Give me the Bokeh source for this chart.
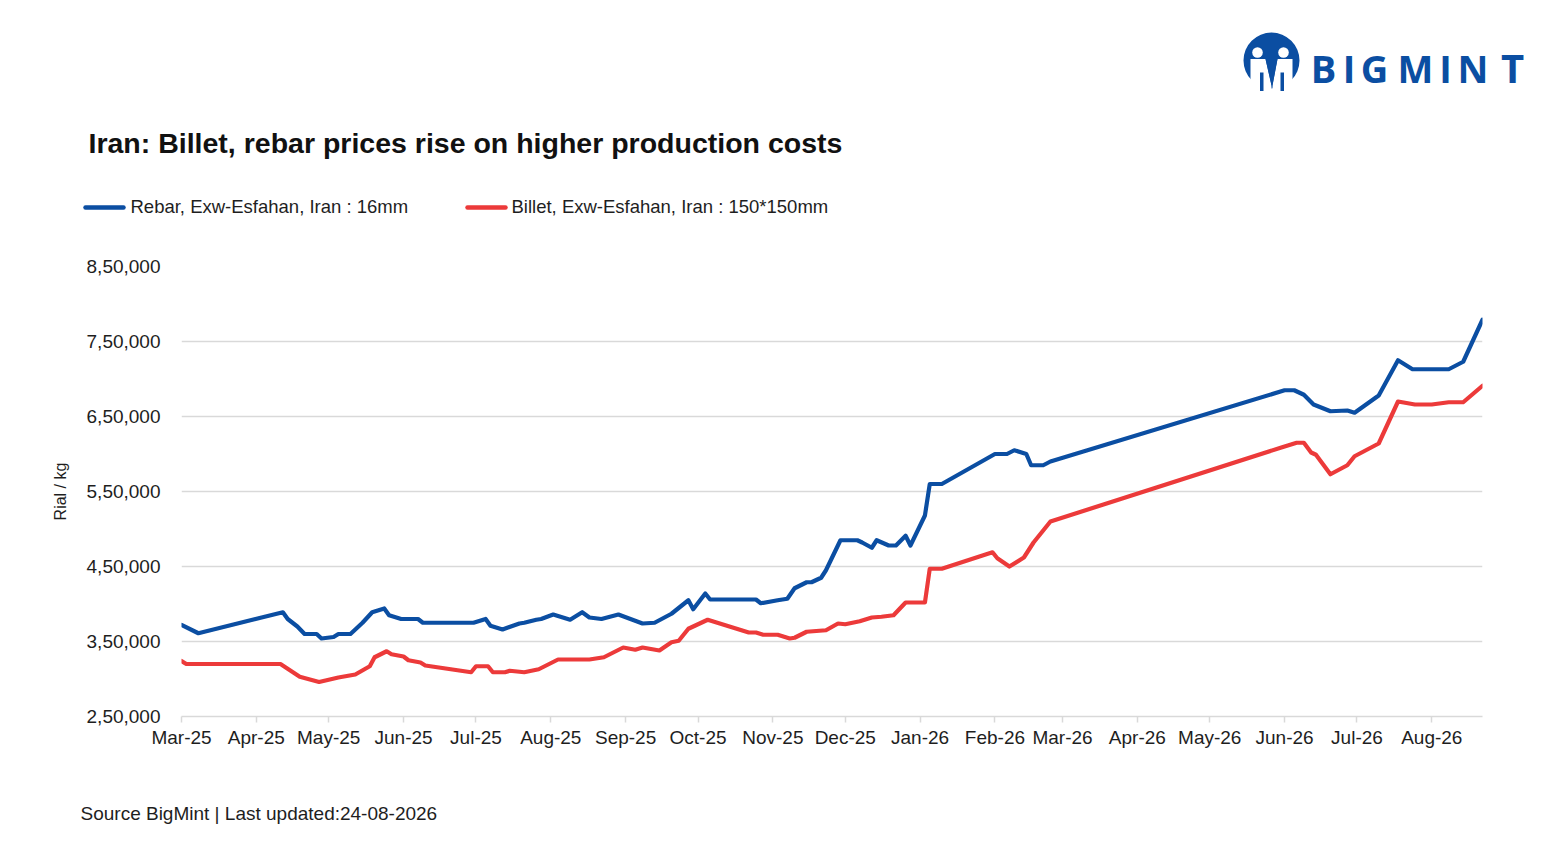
import numpy as np
import pandas as pd
from bokeh.plotting import figure
from bokeh.models import Range1d, FixedTicker, DatetimeTickFormatter
from bokeh.layouts import column
from bokeh.embed import file_html
from bokeh.resources import INLINE
from bokeh.core.properties import value

# ---------------- data ----------------
TITLE = "Iran: Billet, rebar prices rise on higher production costs"
SERIES_NAMES = ["Rebar, Exw-Esfahan, Iran : 16mm", "Billet, Exw-Esfahan, Iran : 150*150mm"]
Y_LABEL = "Rial / kg"
SOURCE = "Source BigMint | Last updated:24-08-2026"
LOGO_TEXT = "BIGMINT"

Y_TICKS = [250000, 350000, 450000, 550000, 650000, 750000, 850000]
Y_TICK_LABELS = ["2,50,000", "3,50,000", "4,50,000", "5,50,000", "6,50,000", "7,50,000", "8,50,000"]
X_START = "2025-03-01"
X_END = "2026-08-22"
MONTH_TICKS = pd.date_range("2025-03-01", "2026-08-01", freq="MS")

rebar_dates = ["2025-03-01", "2025-03-08", "2025-04-12", "2025-04-14", "2025-04-18", "2025-04-21",
               "2025-04-26", "2025-04-28", "2025-05-03", "2025-05-05", "2025-05-10", "2025-05-15",
               "2025-05-19", "2025-05-24", "2025-05-26", "2025-05-31", "2025-06-07", "2025-06-09",
               "2025-06-30", "2025-07-05", "2025-07-07", "2025-07-12", "2025-07-19", "2025-07-21",
               "2025-07-26", "2025-07-28", "2025-08-02", "2025-08-09", "2025-08-14", "2025-08-17",
               "2025-08-22", "2025-08-29", "2025-09-08", "2025-09-13", "2025-09-20", "2025-09-27",
               "2025-09-29", "2025-10-04", "2025-10-06", "2025-10-10", "2025-10-25", "2025-10-27",
               "2025-11-03", "2025-11-07", "2025-11-10", "2025-11-15", "2025-11-17", "2025-11-21",
               "2025-11-23", "2025-11-29", "2025-12-06", "2025-12-08", "2025-12-12", "2025-12-14",
               "2025-12-19", "2025-12-22", "2025-12-26", "2025-12-28", "2026-01-03", "2026-01-05",
               "2026-01-10", "2026-02-01", "2026-02-06", "2026-02-09", "2026-02-14", "2026-02-16",
               "2026-02-21", "2026-02-24", "2026-06-01", "2026-06-05", "2026-06-09", "2026-06-13",
               "2026-06-20", "2026-06-27", "2026-06-30", "2026-07-10", "2026-07-18", "2026-07-24",
               "2026-08-08", "2026-08-14", "2026-08-22"]
rebar_values = [372000, 361000, 389000, 380000, 370000, 360000,
                360000, 354000, 356000, 360000, 360000, 375000,
                389000, 394000, 385000, 380000, 380000, 375000,
                375000, 380000, 371000, 366000, 374000, 375000,
                379000, 380000, 386000, 379000, 389000, 382000,
                380000, 386000, 374000, 375000, 387000, 405000,
                393000, 414000, 406000, 406000, 406000, 401000,
                405000, 407000, 421000, 429000, 429000, 435000,
                445000, 485000, 485000, 482000, 475000, 485000,
                478000, 478000, 491000, 478000, 518000, 560000,
                560000, 600000, 600000, 605000, 600000, 585000,
                585000, 590000, 685000, 685000, 679000, 666000,
                657000, 658000, 655000, 678000, 725000, 713000,
                713000, 723000, 779000]

billet_dates = ["2025-03-01", "2025-03-03", "2025-04-11", "2025-04-19", "2025-04-27", "2025-05-05",
                "2025-05-12", "2025-05-18", "2025-05-20", "2025-05-25", "2025-05-27", "2025-06-01",
                "2025-06-03", "2025-06-08", "2025-06-10", "2025-06-29", "2025-07-01", "2025-07-06",
                "2025-07-08", "2025-07-13", "2025-07-15", "2025-07-21", "2025-07-27", "2025-08-04",
                "2025-08-17", "2025-08-23", "2025-08-31", "2025-09-05", "2025-09-08", "2025-09-15",
                "2025-09-20", "2025-09-23", "2025-09-27", "2025-10-05", "2025-10-11", "2025-10-22",
                "2025-10-25", "2025-10-28", "2025-11-03", "2025-11-08", "2025-11-10", "2025-11-15",
                "2025-11-23", "2025-11-28", "2025-12-01", "2025-12-07", "2025-12-12", "2025-12-16",
                "2025-12-21", "2025-12-26", "2026-01-03", "2026-01-05", "2026-01-10", "2026-01-31",
                "2026-02-02", "2026-02-07", "2026-02-13", "2026-02-17", "2026-02-24", "2026-05-31",
                "2026-06-06", "2026-06-09", "2026-06-12", "2026-06-14", "2026-06-20", "2026-06-27",
                "2026-06-30", "2026-07-10", "2026-07-18", "2026-07-25", "2026-08-01", "2026-08-08",
                "2026-08-14", "2026-08-22"]
billet_values = [324000, 320000, 320000, 303000, 296000, 302000,
                 306000, 317000, 329000, 337000, 333000, 330000,
                 325000, 322000, 318000, 309000, 317000, 317000,
                 309000, 309000, 311000, 309000, 313000, 326000,
                 326000, 329000, 342000, 339000, 342000, 338000,
                 349000, 351000, 367000, 379000, 373000, 362000,
                 362000, 359000, 359000, 354000, 355000, 363000,
                 365000, 374000, 373000, 377000, 382000, 383000,
                 385000, 402000, 402000, 447000, 447000, 469000,
                 461000, 450000, 462000, 482000, 510000, 609000,
                 615000, 615000, 602000, 599000, 573000, 585000,
                 597000, 614000, 670000, 666000, 666000, 669000,
                 669000, 691000]

# ---------------- style ----------------
BLUE = "#0b4ea2"
RED = "#ec3a3a"
GRID = "#d9d9d9"
TEXT = "#1e1e1e"
FONT = "Liberation Sans"
W = 1551
H_HEAD = 250
H_MAIN = 516
H_FOOT = 86


def blank(h):
    f = figure(width=W, height=h, x_range=Range1d(0, W), y_range=Range1d(h, 0),
               x_axis_type=None, y_axis_type=None, output_backend="svg",
               toolbar_location=None, min_border=0, outline_line_color=None)
    f.frame_align = False
    return f


# ---------------- header (coordinates = page pixels) ----------------
hdr = blank(H_HEAD)
hdr.text(x=[88], y=[142], text=[TITLE], text_font=value(FONT), text_font_size="28.5px",
         text_font_style="bold", text_color="#111111", text_baseline="alphabetic", text_align="left")

for (x0, x1, tx, name, col) in [(85, 123, 130, SERIES_NAMES[0], BLUE),
                                (467, 505, 511, SERIES_NAMES[1], RED)]:
    hdr.line(x=[x0, x1], y=[207, 207], line_width=4.5, line_color=col, line_cap="round")
    hdr.text(x=[tx], y=[206], text=[name], text_font=value(FONT), text_font_size="18.5px",
             text_color=TEXT, text_baseline="alphabetic", text_align="left")

# logo icon: blue disc, two white figures forming an "M"
hdr.circle(x=[1271], y=[60], radius=28, fill_color=BLUE, line_color=None)
hdr.patch(x=[1250, 1265, 1271, 1271, 1250], y=[58.5, 58.5, 85, 95, 95], fill_color="white", line_color=None)
hdr.patch(x=[1292, 1277, 1272, 1272, 1292], y=[58.5, 58.5, 85, 95, 95], fill_color="white", line_color=None)
hdr.patch(x=[1265, 1277, 1271.5], y=[58.5, 58.5, 87], fill_color=BLUE, line_color=None)
hdr.circle(x=[1257, 1283], y=[52, 52], radius=5.3, fill_color="white", line_color=None)
hdr.quad(left=[1259.5, 1280], right=[1263, 1283.5], top=[72, 72], bottom=[90.5, 90.5],
         fill_color=BLUE, line_color=None)

letter_x = [1323, 1348.5, 1374, 1415, 1445, 1472.5, 1512]
letter_size = ["38px"] * 6 + ["40px"]
for ch, lx, fs in zip(LOGO_TEXT, letter_x, letter_size):
    hdr.text(x=[lx], y=[67], text=[ch], text_font=value("Open Sans"),
             text_font_size=fs, text_font_style="bold", text_color=BLUE,
             text_baseline="alphabetic", text_align="center")

# ---------------- main chart ----------------
p = figure(width=W, height=H_MAIN, x_axis_type="datetime",
           x_range=Range1d(start=pd.Timestamp(X_START), end=pd.Timestamp(X_END)),
           y_range=Range1d(Y_TICKS[0], Y_TICKS[-1]),
           output_backend="svg", toolbar_location=None,
           min_border_left=181, min_border_right=69, min_border_top=16, min_border_bottom=50,
           outline_line_color=None)
p.frame_align = False

p.line(x=pd.to_datetime(rebar_dates), y=rebar_values, line_color=BLUE, line_width=4.2,
       line_join="round", line_cap="round")
p.line(x=pd.to_datetime(billet_dates), y=billet_values, line_color=RED, line_width=4.2,
       line_join="round", line_cap="round")

p.xgrid.visible = False
p.ygrid.grid_line_color = GRID
p.ygrid.grid_line_width = 1.5
p.ygrid.ticker = FixedTicker(ticks=Y_TICKS)

p.yaxis.ticker = FixedTicker(ticks=Y_TICKS)
p.yaxis.major_label_overrides = dict(zip(Y_TICKS, Y_TICK_LABELS))
p.yaxis.axis_line_color = None
p.yaxis.major_tick_line_color = None
p.yaxis.minor_tick_line_color = None
p.yaxis.major_label_standoff = 15
p.yaxis.major_label_text_font = FONT
p.yaxis.major_label_text_font_size = "19px"
p.yaxis.major_label_text_color = TEXT
p.yaxis.axis_label = Y_LABEL
p.yaxis.axis_label_text_font = FONT
p.yaxis.axis_label_text_font_size = "16px"
p.yaxis.axis_label_text_font_style = "normal"
p.yaxis.axis_label_text_color = TEXT
p.yaxis.axis_label_standoff = 15

p.xaxis.ticker = FixedTicker(ticks=[t.timestamp() * 1000 for t in MONTH_TICKS])
p.xaxis.formatter = DatetimeTickFormatter(days="%b-%y", months="%b-%y", years="%b-%y")
p.xaxis.axis_line_color = GRID
p.xaxis.axis_line_width = 1.5
p.xaxis.major_tick_line_color = GRID
p.xaxis.major_tick_line_width = 1.5
p.xaxis.major_tick_in = 0
p.xaxis.major_tick_out = 6
p.xaxis.minor_tick_line_color = None
p.xaxis.major_label_standoff = 4
p.xaxis.major_label_text_font = FONT
p.xaxis.major_label_text_font_size = "19px"
p.xaxis.major_label_text_color = TEXT

# ---------------- footer ----------------
ftr = blank(H_FOOT)
ftr.text(x=[80], y=[47], text=[SOURCE], text_font=value(FONT), text_font_size="19px",
         text_color=TEXT, text_baseline="alphabetic", text_align="left")

layout = column(hdr, p, ftr, spacing=0)
open("out.html", "w").write(file_html(layout, INLINE))
